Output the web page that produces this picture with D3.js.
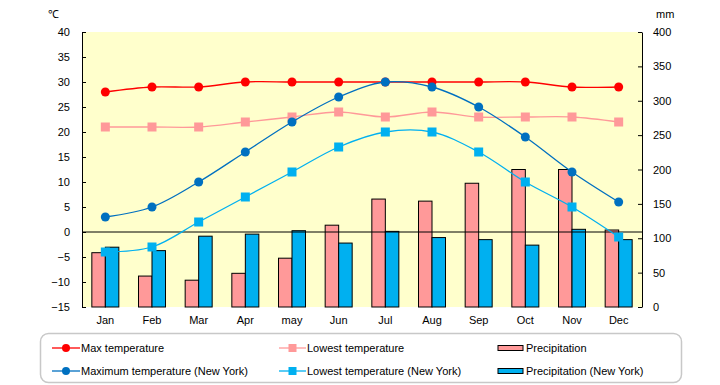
<!DOCTYPE html>
<html>
<head>
<meta charset="utf-8">
<script src="https://cdn.jsdelivr.net/npm/d3@7"></script>
<style>
  body { margin: 0; background: #fff; }
  text { font-family: "Liberation Sans", Arial, sans-serif; font-size: 11px; fill: #000; }
</style>
</head>
<body>
<div id="chart"></div>
<script>
var months = ["Jan", "Feb", "Mar", "Apr", "may", "Jun", "Jul", "Aug", "Sep", "Oct", "Nov", "Dec"];
var maxTemp = [28, 29, 29, 30, 30, 30, 30, 30, 30, 30, 29, 29];
var lowTemp = [21, 21, 21, 22, 23, 24, 23, 24, 23, 23, 23, 22];
var maxTempNY = [3, 5, 10, 16, 22, 27, 30, 29, 25, 19, 12, 6];
var lowTempNY = [-4, -3, 2, 7, 12, 17, 20, 20, 16, 10, 5, -1];
var precip = [79, 45, 39, 49, 71, 119, 157, 154, 180, 200, 200, 112];
var precipNY = [87, 82, 103, 106, 111, 93, 110, 101, 98, 90, 113, 98];
var tempTicks = [40, 35, 30, 25, 20, 15, 10, 5, 0, -5, -10, -15];
var mmTicks = [400, 350, 300, 250, 200, 150, 100, 50, 0];

var WIDTH = 720, HEIGHT = 385;
var plot = {left: 82, right: 642, top: 32, bottom: 307};

var svg = d3.select("#chart").append("svg")
  .attr("width", WIDTH)
  .attr("height", HEIGHT);

var x = d3.scaleBand().domain(months).range([plot.left, plot.right]);
var yT = d3.scaleLinear().domain([-15, 40]).range([plot.bottom, plot.top]);
var yP = d3.scaleLinear().domain([0, 400]).range([plot.bottom, plot.top]);

// plot background
svg.append("rect")
  .attr("x", plot.left).attr("y", plot.top)
  .attr("width", plot.right - plot.left).attr("height", plot.bottom - plot.top)
  .attr("fill", "#ffffcc");

// bars
var bw = 13.5;
svg.append("g").selectAll("rect")
  .data(precip)
  .join("rect")
  .attr("x", function(d, i) { return x(months[i]) + x.bandwidth() / 2 - bw; })
  .attr("y", function(d) { return yP(d); })
  .attr("width", bw)
  .attr("height", function(d) { return yP(0) - yP(d); })
  .attr("fill", "#ff9999").attr("stroke", "#000").attr("stroke-width", 1);

svg.append("g").selectAll("rect")
  .data(precipNY)
  .join("rect")
  .attr("x", function(d, i) { return x(months[i]) + x.bandwidth() / 2; })
  .attr("y", function(d) { return yP(d); })
  .attr("width", bw)
  .attr("height", function(d) { return yP(0) - yP(d); })
  .attr("fill", "#00b0f0").attr("stroke", "#000").attr("stroke-width", 1);

// zero line
svg.append("line")
  .attr("x1", plot.left).attr("x2", plot.right)
  .attr("y1", yT(0)).attr("y2", yT(0))
  .attr("stroke", "#000").attr("stroke-width", 1);

// axes
var leftAxis = svg.append("g")
  .attr("transform", "translate(" + plot.left + ",0)")
  .call(d3.axisLeft(yT).tickValues(tempTicks).tickSizeInner(-4).tickSizeOuter(0).tickPadding(12));
var rightAxis = svg.append("g")
  .attr("transform", "translate(" + plot.right + ",0)")
  .call(d3.axisRight(yP).tickValues(mmTicks).tickSizeInner(-4).tickSizeOuter(0).tickPadding(11));
[leftAxis, rightAxis].forEach(function(a) {
  a.attr("font-family", null).attr("font-size", null);
  a.select(".domain").attr("stroke", "#000");
  a.selectAll(".tick line").attr("stroke", "#000");
});

var xAxis = svg.append("g")
  .attr("transform", "translate(0," + plot.bottom + ")")
  .call(d3.axisBottom(x).tickSize(0).tickPadding(9));
xAxis.attr("font-family", null).attr("font-size", null);
xAxis.select(".domain").remove();

svg.append("text").attr("x", 48).attr("y", 18).text("℃");
svg.append("text").attr("x", 656).attr("y", 18).text("mm");

// lines
var series = [
  {values: maxTemp, color: "#ff0000", shape: "circle"},
  {values: lowTemp, color: "#ff9999", shape: "square"},
  {values: maxTempNY, color: "#0070c0", shape: "circle"},
  {values: lowTempNY, color: "#00b0f0", shape: "square"}
];

var line = d3.line()
  .x(function(d, i) { return x(months[i]) + x.bandwidth() / 2; })
  .y(function(d) { return yT(d); })
  .curve(d3.curveCatmullRom.alpha(0.5));

series.forEach(function(s) {
  svg.append("path")
    .attr("d", line(s.values))
    .attr("fill", "none")
    .attr("stroke", s.color)
    .attr("stroke-width", 1.3);
  var g = svg.append("g");
  s.values.forEach(function(v, i) {
    var cx = x(months[i]) + x.bandwidth() / 2, cy = yT(v);
    if (s.shape === "circle") {
      g.append("circle").attr("cx", cx).attr("cy", cy).attr("r", 4.5).attr("fill", s.color);
    } else {
      g.append("rect").attr("x", cx - 4.5).attr("y", cy - 4.5).attr("width", 9).attr("height", 9).attr("fill", s.color);
    }
  });
});

// legend
svg.append("rect")
  .attr("x", 40.5).attr("y", 333.5).attr("width", 641).attr("height", 49)
  .attr("rx", 8).attr("ry", 8)
  .attr("fill", "#fff").attr("stroke", "#c8c8c8").attr("stroke-width", 1.5);

var legendItems = [
  {label: "Max temperature", color: "#ff0000", shape: "circle", x: 52, y: 348},
  {label: "Maximum temperature (New York)", color: "#0070c0", shape: "circle", x: 52, y: 371},
  {label: "Lowest temperature", color: "#ff9999", shape: "square", x: 279, y: 348},
  {label: "Lowest temperature (New York)", color: "#00b0f0", shape: "square", x: 279, y: 371},
  {label: "Precipitation", color: "#ff9999", shape: "bar", x: 498, y: 348},
  {label: "Precipitation (New York)", color: "#00b0f0", shape: "bar", x: 498, y: 371}
];

legendItems.forEach(function(d) {
  var g = svg.append("g");
  if (d.shape === "bar") {
    g.append("rect").attr("x", d.x).attr("y", d.y - 2.5).attr("width", 25).attr("height", 5)
      .attr("fill", d.color).attr("stroke", "#000").attr("stroke-width", 1);
    g.append("text").attr("x", d.x + 28).attr("y", d.y + 4).text(d.label);
  } else {
    var w = d.shape === "circle" ? 28 : 27;
    g.append("line").attr("x1", d.x).attr("x2", d.x + w).attr("y1", d.y).attr("y2", d.y)
      .attr("stroke", d.color).attr("stroke-width", 1.3);
    if (d.shape === "circle") {
      g.append("circle").attr("cx", d.x + w / 2).attr("cy", d.y).attr("r", 4).attr("fill", d.color);
    } else {
      g.append("rect").attr("x", d.x + w / 2 - 4).attr("y", d.y - 4).attr("width", 8).attr("height", 8).attr("fill", d.color);
    }
    g.append("text").attr("x", d.x + w + 1).attr("y", d.y + 4).text(d.label);
  }
});
</script>
</body>
</html>
